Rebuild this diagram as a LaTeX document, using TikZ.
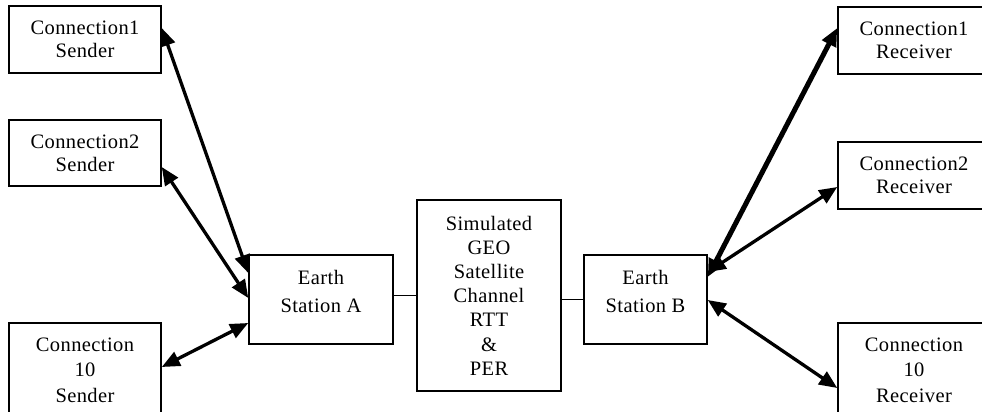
\documentclass[tikz,border=0pt]{standalone}
\usepackage{fontspec}
\setmainfont{Liberation Serif}[LetterSpace=2]
\usetikzlibrary{arrows.meta,calc}
\tikzset{
  box/.style={draw, line width=1.5pt, rectangle, align=center, inner sep=0pt,
    font=\fontsize{20.5}{23}\selectfont},
  link/.style={line width=1.5pt},
  dbl/.style={line width=3.3pt, {Triangle[length=18pt,width=15pt]}-{Triangle[length=18pt,width=15pt]}},
}
\begin{document}
\begin{tikzpicture}[x=1pt,y=-1pt]
\useasboundingbox (0,0) rectangle (982,412);
% left senders
\node[box, minimum width=152pt, minimum height=67pt] (s1) at (85,39.5) {Connection1\\Sender};
\node[box, minimum width=152pt, minimum height=66pt] (s2) at (85,153) {Connection2\\Sender};
\node[box, minimum width=152pt, minimum height=94pt, font=\fontsize{20.5}{25.5}\selectfont] (s10) at (85,370) {Connection\\10\\Sender};
% earth stations and channel
\node[box, minimum width=144pt, minimum height=89pt, font=\fontsize{20.5}{28}\selectfont, text depth=17pt] (esa) at (321,299.5) {Earth\\Station A};
\node[box, minimum width=144pt, minimum height=191pt, font=\fontsize{20.5}{24.2}\selectfont] (sim) at (489,295.5) {Simulated\\GEO\\Satellite\\Channel\\RTT\\\&\\PER};
\node[box, minimum width=123pt, minimum height=89pt, font=\fontsize{20.5}{28}\selectfont, text depth=17pt] (esb) at (645.5,299.5) {Earth\\Station B};
% right receivers
\node[box, minimum width=152pt, minimum height=67pt] (r1) at (914,40.5) {Connection1\\Receiver};
\node[box, minimum width=152pt, minimum height=67pt] (r2) at (914,175.5) {Connection2\\Receiver};
\node[box, minimum width=152pt, minimum height=94pt, font=\fontsize{20.5}{25.5}\selectfont] (r10) at (914,370) {Connection\\10\\Receiver};
% plain links
\draw[link] (esa.east |- sim.west) -- (sim.west);
\draw[link] (sim.east |- esb.west) -- (esb.west);
% double arrows
\draw[dbl] ($(s1.east)+(0,-11.5)$) -- ($(esa.west)+(0,-26.5)$);
\draw[dbl] ($(s2.east)+(0,14)$) -- ($(esa.west)+(0,-1.5)$);
\draw[dbl] ($(s10.east)+(0,-3)$) -- ($(esa.west)+(0,23.5)$);
\draw[dbl, line width=5pt] ($(esb.east)+(0,-22.5)$) -- ($(r1.west)+(0,-12.5)$);
\draw[dbl] ($(esb.east)+(0,-27.5)$) -- ($(r2.west)+(0,11.5)$);
\draw[dbl] ($(esb.east)+(0,0.5)$) -- ($(r10.west)+(0,18)$);
\end{tikzpicture}
\end{document}
